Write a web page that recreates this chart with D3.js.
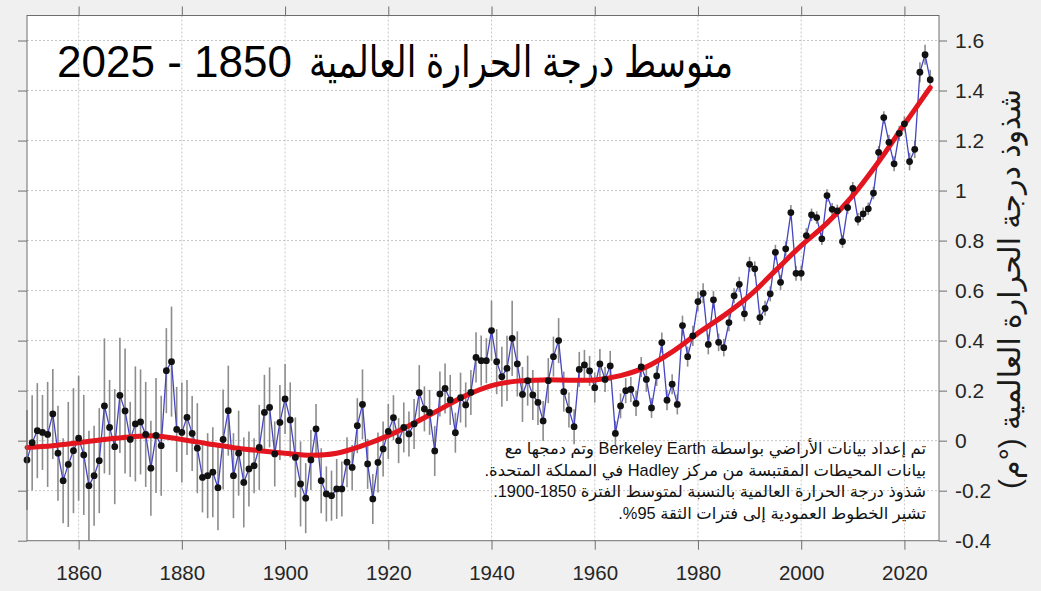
<!DOCTYPE html>
<html>
<head>
<meta charset="utf-8">
<script src="https://cdn.jsdelivr.net/npm/d3@7"></script>
<style>
  html, body { margin: 0; padding: 0; background: #f0f0f0; }
  svg { display: block; }
  .tick text { font-family: "Liberation Sans", Arial, sans-serif; fill: #262626; }
</style>
</head>
<body>
<svg id="chart" width="1041" height="591"></svg>
<script>
// Annual global mean temperature anomaly (°C, relative to 1850-1900)
const years = d3.range(1850, 2026);
const anomaly = [
  -0.077, -0.008, 0.040, 0.033, 0.025, 0.107, -0.050, -0.160, -0.095, -0.040,   // 1850s
   0.010, -0.057, -0.180, -0.140, -0.080, 0.139, 0.053, -0.024, 0.181, 0.119,   // 1860s
   0.005, 0.067, 0.075, 0.025, -0.110, 0.021, -0.020, 0.280, 0.316, 0.045,      // 1870s
   0.033, 0.093, 0.029, -0.030, -0.147, -0.140, -0.126, -0.188, 0.005, 0.120,   // 1880s
  -0.140, -0.050, -0.167, -0.113, -0.100, -0.027, 0.113, 0.133, -0.053, 0.073,  // 1890s
   0.167, 0.083, -0.067, -0.173, -0.230, -0.077, 0.047, -0.160, -0.213, -0.220, // 1900s
  -0.193, -0.193, -0.086, -0.107, 0.060, 0.145, -0.093, -0.233, -0.087, -0.033, // 1910s
   0.037, 0.092, 0.000, 0.053, 0.027, 0.067, 0.192, 0.127, 0.113, -0.041,       // 1920s
   0.187, 0.209, 0.163, 0.032, 0.172, 0.143, 0.193, 0.333, 0.320, 0.320,        // 1930s
   0.440, 0.316, 0.256, 0.289, 0.409, 0.307, 0.185, 0.240, 0.183, 0.153,        // 1940s
   0.079, 0.240, 0.336, 0.400, 0.196, 0.123, 0.056, 0.285, 0.303, 0.279,        // 1950s
   0.212, 0.307, 0.245, 0.299, 0.029, 0.139, 0.200, 0.205, 0.149, 0.295,        // 1960s
   0.245, 0.131, 0.259, 0.392, 0.162, 0.226, 0.145, 0.460, 0.336, 0.419,        // 1970s
   0.556, 0.589, 0.385, 0.563, 0.393, 0.372, 0.472, 0.579, 0.625, 0.507,        // 1980s
   0.705, 0.687, 0.492, 0.529, 0.587, 0.753, 0.633, 0.767, 0.912, 0.669,        // 1990s
   0.669, 0.820, 0.903, 0.892, 0.807, 0.980, 0.925, 0.919, 0.796, 0.932,        // 2000s
   1.009, 0.885, 0.907, 0.927, 0.990, 1.153, 1.292, 1.193, 1.107, 1.229,        // 2010s
   1.267, 1.116, 1.165, 1.473, 1.543, 1.443                                     // 2020s
];
// Half-width of the 95% confidence interval for each year (°C)
const uncertainty = [
  0.20, 0.19, 0.19, 0.15, 0.21, 0.18, 0.19, 0.17, 0.25, 0.25,
  0.25, 0.24, 0.22, 0.20, 0.21, 0.27, 0.19, 0.23, 0.23, 0.25,
  0.15, 0.23, 0.21, 0.21, 0.19, 0.23, 0.20, 0.17, 0.22, 0.17,
  0.20, 0.15, 0.15, 0.18, 0.14, 0.17, 0.18, 0.17, 0.20, 0.18,
  0.17, 0.17, 0.18, 0.15, 0.11, 0.17, 0.15, 0.16, 0.13, 0.15,
  0.14, 0.15, 0.16, 0.17, 0.14, 0.12, 0.10, 0.13, 0.11, 0.10,
  0.12, 0.11, 0.10, 0.09, 0.11, 0.14, 0.10, 0.10, 0.12, 0.11,
  0.11, 0.09, 0.09, 0.10, 0.09, 0.10, 0.11, 0.09, 0.09, 0.10,
  0.09, 0.10, 0.10, 0.08, 0.10, 0.09, 0.09, 0.10, 0.10, 0.09,
  0.12, 0.13, 0.12, 0.13, 0.15, 0.13, 0.11, 0.10, 0.10, 0.09,
  0.08, 0.09, 0.08, 0.09, 0.08, 0.07, 0.07, 0.07, 0.06, 0.06,
  0.06, 0.06, 0.05, 0.06, 0.05, 0.05, 0.05, 0.05, 0.05, 0.04,
  0.05, 0.04, 0.04, 0.04, 0.04, 0.04, 0.04, 0.04, 0.04, 0.04,
  0.04, 0.04, 0.04, 0.035, 0.035, 0.035, 0.035, 0.03, 0.03, 0.03,
  0.03, 0.03, 0.03, 0.03, 0.03, 0.03, 0.03, 0.03, 0.03, 0.03,
  0.03, 0.03, 0.025, 0.025, 0.025, 0.025, 0.025, 0.025, 0.025, 0.025,
  0.025, 0.025, 0.025, 0.025, 0.025, 0.025, 0.025, 0.03, 0.03, 0.03,
  0.03, 0.035, 0.035, 0.04, 0.04, 0.04
];
// Smoothed long-term trend, sampled every five years
const trendYears = [1850, 1855, 1860, 1865, 1870, 1875, 1880, 1885, 1890, 1895,
                    1900, 1905, 1910, 1915, 1920, 1925, 1930, 1935, 1940, 1945,
                    1950, 1955, 1960, 1965, 1970, 1975, 1980, 1985, 1990, 1995,
                    2000, 2005, 2010, 2015, 2020, 2025];
const trendValues = [-0.027, -0.020, -0.008, 0.005, 0.015, 0.019, 0.005, -0.012, -0.028, -0.040,
                     -0.050, -0.058, -0.050, -0.020, 0.020, 0.070, 0.125, 0.180, 0.220, 0.238,
                     0.243, 0.242, 0.243, 0.260, 0.295, 0.355, 0.430, 0.500, 0.580, 0.680,
                     0.780, 0.870, 0.980, 1.115, 1.265, 1.412];
const xTicks = [1860, 1880, 1900, 1920, 1940, 1960, 1980, 2000, 2020];
const yTicks = [-0.4, -0.2, 0, 0.2, 0.4, 0.6, 0.8, 1, 1.2, 1.4, 1.6];

const titleWords = "متوسط درجة الحرارة العالمية";
const titleYears = "1850 - 2025";
const yLabelText = "شذوذ درجة الحرارة العالمية (°م)";
const noteLines = [
  "تم إعداد بيانات الأراضي بواسطة Berkeley Earth وتم دمجها مع",
  "بيانات المحيطات المقتبسة من مركز Hadley في المملكة المتحدة.",
  "شذوذ درجة الحرارة العالمية بالنسبة لمتوسط الفترة 1850-1900.",
  "تشير الخطوط العمودية إلى فترات الثقة 95%."
];

const series = years.map((y, i) => ({ year: y, value: anomaly[i], err: uncertainty[i] }));
const trend = trendYears.map((y, i) => ({ year: y, value: trendValues[i] }));

const svg = d3.select("#chart");
const W = 1041, H = 591;
const plot = { left: 27, right: 939, top: 15.5, bottom: 540.7 };

svg.append("rect").attr("width", W).attr("height", H).attr("fill", "#f0f0f0");

const x = d3.scaleLinear().domain([1850, 2026.7]).range([plot.left, plot.right]);
const y = d3.scaleLinear().domain([-0.4, 1.7]).range([plot.bottom, plot.top]);

// plot background
svg.append("rect")
  .attr("x", plot.left).attr("y", plot.top)
  .attr("width", plot.right - plot.left).attr("height", plot.bottom - plot.top)
  .attr("fill", "#ffffff");

// dotted grid
const grid = svg.append("g").attr("stroke", "#c6c6c6").attr("stroke-width", 1)
  .attr("stroke-dasharray", "2,2");
grid.selectAll("line.vg").data(xTicks).join("line").attr("class", "vg")
  .attr("x1", d => x(d)).attr("x2", d => x(d))
  .attr("y1", plot.top).attr("y2", plot.bottom);
grid.selectAll("line.hg").data(yTicks.filter(d => d > -0.4)).join("line").attr("class", "hg")
  .attr("x1", plot.left).attr("x2", plot.right)
  .attr("y1", d => y(d)).attr("y2", d => y(d));

// error bars
svg.append("g").selectAll("line").data(series).join("line")
  .attr("x1", d => x(d.year)).attr("x2", d => x(d.year))
  .attr("y1", d => y(d.value - d.err)).attr("y2", d => y(d.value + d.err))
  .attr("stroke", "#8c8c8c").attr("stroke-width", 1.6);

// annual series line
svg.append("path").datum(series)
  .attr("fill", "none").attr("stroke", "#4545c2").attr("stroke-width", 1.3)
  .attr("d", d3.line().x(d => x(d.year)).y(d => y(d.value)));

// smoothed trend
svg.append("path").datum(trend)
  .attr("fill", "none").attr("stroke", "#e3151e").attr("stroke-width", 5)
  .attr("stroke-linecap", "round")
  .attr("d", d3.line().curve(d3.curveCatmullRom.alpha(0.5)).x(d => x(d.year)).y(d => y(d.value)));

// annual markers
svg.append("g").selectAll("circle").data(series).join("circle")
  .attr("cx", d => x(d.year)).attr("cy", d => y(d.value)).attr("r", 3.4)
  .attr("fill", "#111111");

// axes (ticks point outward on all four sides)
const axisColor = "#6e6e6e";
function styleAxis(g, size) {
  g.select(".domain").remove();
  g.selectAll(".tick line").attr("stroke", axisColor);
  g.selectAll(".tick text").style("font-size", size + "px");
}
svg.append("g").attr("transform", `translate(0,${plot.bottom})`)
  .call(d3.axisBottom(x).tickValues(xTicks).tickSize(9).tickPadding(16).tickFormat(d3.format("d")))
  .call(g => styleAxis(g, 20.5));
svg.append("g").attr("transform", `translate(0,${plot.top})`)
  .call(d3.axisTop(x).tickValues(xTicks).tickSize(9).tickFormat(""))
  .call(g => styleAxis(g, 20));
svg.append("g").attr("transform", `translate(${plot.left},0)`)
  .call(d3.axisLeft(y).tickValues(yTicks).tickSize(9).tickFormat(""))
  .call(g => styleAxis(g, 20));
svg.append("g").attr("transform", `translate(${plot.right},0)`)
  .call(d3.axisRight(y).tickValues(yTicks).tickSize(8).tickPadding(8)
    .tickFormat(d => String(+d.toFixed(1))))
  .call(g => styleAxis(g, 21));

// plot frame
svg.append("rect")
  .attr("x", plot.left).attr("y", plot.top)
  .attr("width", plot.right - plot.left).attr("height", plot.bottom - plot.top)
  .attr("fill", "none").attr("stroke", axisColor).attr("stroke-width", 1);

const textFont = "'Liberation Sans', 'DejaVu Sans', Arial, sans-serif";

// right-to-left text placed by its right edge; optional fitted width
function rtlText(parent, str, right, baseline, size, color, width) {
  const t = parent.append("text")
    .attr("direction", "rtl").attr("text-anchor", "middle")
    .attr("y", baseline)
    .style("font-family", textFont)
    .style("font-size", size + "px").attr("fill", color)
    .text(str);
  let len = t.node().getComputedTextLength();
  if (width) {
    t.attr("textLength", width).attr("lengthAdjust", "spacingAndGlyphs");
    len = width;
  }
  t.attr("x", right - len / 2);
  return t;
}

// title: Arabic words on the right, year span to their left
const titleGroup = svg.append("g");
rtlText(titleGroup, titleWords, 733, 77, 44, "#000000", 424);
rtlText(titleGroup, titleYears, 292, 77, 44, "#000000");

// explanatory note
noteLines.forEach((s, i) => rtlText(svg, s, 926, 454 + i * 21.5, 16.4, "#111111"));

// y-axis label on the right
svg.append("text")
  .attr("transform", "translate(1020,289) rotate(-90)")
  .attr("direction", "rtl").attr("text-anchor", "middle")
  .style("font-family", textFont)
  .style("font-size", "30px").attr("fill", "#1a1a1a")
  .text(yLabelText);
</script>
</body>
</html>
